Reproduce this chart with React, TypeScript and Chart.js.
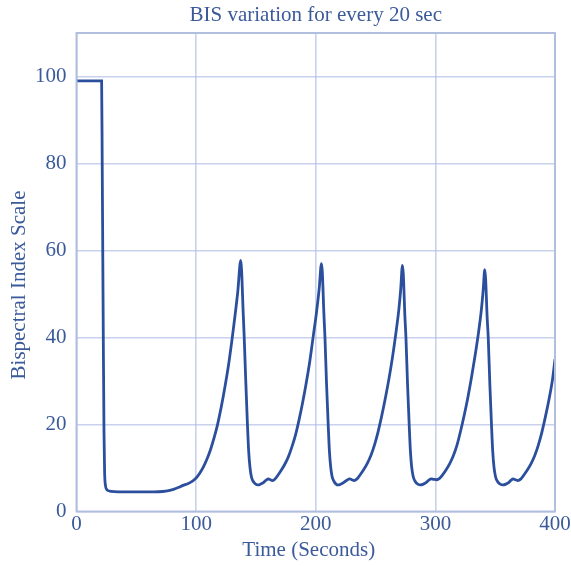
import React, { useEffect, useRef } from "react";
import { Chart, registerables } from "chart.js";

Chart.register(...registerables);

const chartTitle = "BIS variation for every 20 sec";
const xAxisTitle = "Time (Seconds)";
const yAxisTitle = "Bispectral Index Scale";
const xTicks = [0, 100, 200, 300, 400];
const yTicks = [0, 20, 40, 60, 80, 100];

// Induction phase and first rise
const inductionTimes = [0, 21, 21.5, 22, 22.5, 23, 23.5, 24.2, 25.2, 26.5, 29, 35, 45, 55, 65, 72, 77, 81, 85, 89, 93, 97, 100, 103, 106, 109, 112, 115, 118, 121, 124, 127, 130, 132.5, 134.8, 137.3];
const inductionValues = [99, 99, 80, 58, 36, 18, 9, 6.0, 5.1, 4.8, 4.6, 4.5, 4.5, 4.5, 4.5, 4.6, 4.8, 5.1, 5.5, 6.0, 6.4, 7.0, 7.7, 8.8, 10.2, 12.0, 14.2, 16.9, 20.1, 24, 28.5, 33.5, 39.5, 45, 50.5, 57.7];

// Cycle 1 (after first peak)
const cycle1Times = [138.0, 139.3, 140.2, 141.5, 142.9, 143.9, 145.0, 146.2, 147.8, 149.8, 151.7, 154, 156.5, 158.5, 160.5, 162, 163.8, 166, 168.5, 171, 174, 177, 180, 183, 186, 189, 192, 195, 198, 200.5, 202.8, 204.8];
const cycle1Values = [55.5, 46, 40, 30, 20, 14, 10.2, 8.0, 6.9, 6.3, 6.1, 6.3, 6.7, 7.2, 7.5, 7.3, 7.1, 7.5, 8.4, 9.4, 10.8, 12.5, 14.8, 17.5, 21, 25, 29.5, 34.5, 40.5, 45.5, 51, 57.0];

// Cycle 2
const cycle2Times = [205.5, 206.8, 207.7, 209, 210.4, 211.4, 212.5, 213.7, 215.3, 217, 218.7, 221, 223.5, 226, 228.5, 230.2, 232, 234.5, 237, 240, 243, 246, 249, 252, 255, 258, 261, 264, 267, 269.5, 271, 272.5];
const cycle2Values = [55, 45.5, 40, 29.5, 20, 14, 10.2, 8.0, 6.9, 6.3, 6.1, 6.3, 6.7, 7.2, 7.5, 7.3, 7.1, 7.5, 8.4, 9.6, 11.0, 12.8, 15.2, 18.2, 21.8, 25.8, 30.2, 35.2, 41, 46.5, 51, 56.6];

// Cycle 3
const cycle3Times = [273.2, 274.5, 275.4, 276.7, 278.1, 279.1, 280.2, 281.5, 283.2, 285.3, 287.5, 290, 292.5, 294.5, 296.5, 298.5, 301, 303.5, 306, 309, 312, 315, 318, 321, 324, 327, 330, 333, 336, 338.5, 340, 341.3];
const cycle3Values = [54.5, 45, 40, 29.5, 20, 14, 10.2, 8.0, 6.9, 6.3, 6.1, 6.3, 6.7, 7.2, 7.5, 7.4, 7.3, 7.6, 8.4, 9.6, 11.0, 12.8, 15.2, 18.4, 22, 26, 30.5, 35.5, 41, 46.5, 51, 55.6];

// Cycle 4 (to end of record)
const cycle4Times = [342, 343.3, 344.2, 345.5, 346.9, 347.9, 349, 350.3, 352, 354.2, 356.5, 359, 361.5, 363.3, 365, 367, 369, 371.5, 374, 377, 380, 383, 386, 389, 392, 395, 398, 400];
const cycle4Values = [53.5, 44.5, 40, 29.5, 20, 14, 10.2, 8.0, 6.9, 6.3, 6.1, 6.3, 6.7, 7.2, 7.5, 7.3, 7.1, 7.5, 8.4, 9.6, 11.0, 12.8, 15.2, 18.2, 21.8, 25.8, 30.5, 35];

const allTimes = [...inductionTimes, ...cycle1Times, ...cycle2Times, ...cycle3Times, ...cycle4Times];
const allValues = [...inductionValues, ...cycle1Values, ...cycle2Values, ...cycle3Values, ...cycle4Values];

const textColor = "#3b5a9a";
const lineColor = "#2c4f9d";
const gridColor = "rgba(172,186,226,0.65)";
const frameColor = "#b2bedd";
const fontFamily = "'Liberation Serif', 'Times New Roman', serif";

const framePlugin = {
  id: "frameAndTitles",
  afterDatasetsDraw(chart: any) {
    const { ctx, chartArea } = chart;
    ctx.save();
    ctx.strokeStyle = frameColor;
    ctx.lineWidth = 2;
    ctx.strokeRect(chartArea.left, chartArea.top, chartArea.right - chartArea.left, chartArea.bottom - chartArea.top);
    ctx.fillStyle = textColor;
    ctx.font = `21px ${fontFamily}`;
    ctx.textAlign = "center";
    ctx.textBaseline = "middle";
    ctx.fillText(chartTitle, (chartArea.left + chartArea.right) / 2, 15);
    ctx.fillText(xAxisTitle, (chartArea.left + chartArea.right) / 2 - 7, 550);
    ctx.translate(19, 285);
    ctx.rotate(-Math.PI / 2);
    ctx.fillText(yAxisTitle, 0, 0);
    ctx.restore();
  },
};

export default function App() {
  const canvasRef = useRef<HTMLCanvasElement | null>(null);

  useEffect(() => {
    if (!canvasRef.current) return;
    const points = allTimes.map((t, i) => ({ x: t, y: allValues[i] }));
    const chart = new Chart(canvasRef.current, {
      type: "line",
      data: {
        datasets: [
          {
            data: points,
            borderColor: lineColor,
            borderWidth: 2.8,
            pointRadius: 0,
            fill: false,
            cubicInterpolationMode: "monotone",
          },
        ],
      },
      options: {
        animation: false,
        responsive: false,
        maintainAspectRatio: false,
        layout: { padding: { left: 0, right: 16, top: 33, bottom: 0 } },
        plugins: {
          legend: { display: false },
          tooltip: { enabled: false },
          title: { display: false },
        },
        scales: {
          x: {
            type: "linear",
            min: 0,
            max: 400,
            afterBuildTicks: (scale: any) => {
              scale.ticks = xTicks.map((v) => ({ value: v }));
            },
            afterFit: (scale: any) => {
              scale.height = 54.5;
              scale.paddingLeft = 0;
              scale.paddingRight = 0;
            },
            ticks: {
              color: textColor,
              font: { family: fontFamily, size: 21 },
              padding: 0,
              maxRotation: 0,
            },
            grid: { color: gridColor, lineWidth: 1.6, drawTicks: false },
            border: { display: false },
            title: { display: false },
          },
          y: {
            type: "linear",
            min: 0,
            max: 110,
            afterBuildTicks: (scale: any) => {
              scale.ticks = yTicks.map((v) => ({ value: v }));
            },
            afterFit: (scale: any) => {
              scale.width = 76.5;
              scale.paddingTop = 0;
              scale.paddingBottom = 0;
            },
            ticks: {
              color: textColor,
              font: { family: fontFamily, size: 21 },
              padding: 10,
            },
            grid: { color: gridColor, lineWidth: 1.6, drawTicks: false },
            border: { display: false },
            title: { display: false },
          },
        },
      },
      plugins: [framePlugin],
    });
    return () => chart.destroy();
  }, []);

  return (
    <div style={{ position: "absolute", left: 0, top: 0, width: 571, height: 566, background: "#ffffff" }}>
      <canvas ref={canvasRef} width={571} height={566} style={{ width: 571, height: 566, display: "block" }} />
    </div>
  );
}
